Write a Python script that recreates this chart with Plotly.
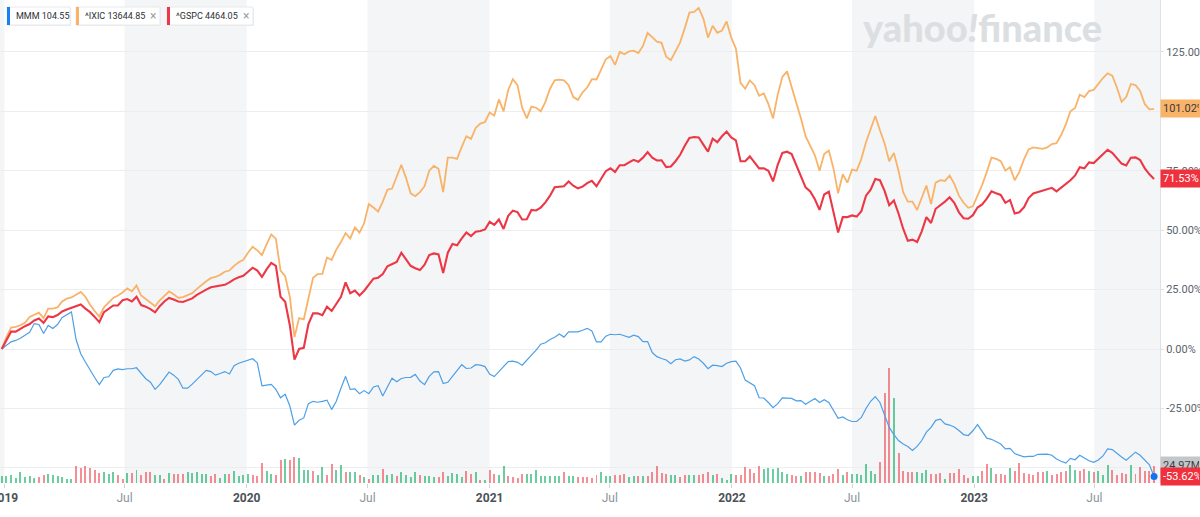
import plotly.graph_objects as go
from datetime import date, timedelta

# ---------------- data (weekly) ----------------
START_DATE = date(2018, 12, 28)

IXIC_PCT = [
    0, 5, 9, 9.3, 10, 11, 13.5, 14.5, 15.3, 13,
    17, 17, 17.5, 20, 21.2, 21.7, 23, 24, 22, 18.6,
    16, 13.6, 17.5, 19.5, 21.5, 22.5, 23.8, 25.5, 24.3, 26.7,
    22.5, 21, 19.5, 18, 20.5, 22.5, 24.2, 23, 21.5, 21.8,
    22.5, 23.5, 25.3, 27, 28.5, 29.8, 30.3, 31.2, 32.5, 33,
    35, 36.5, 37.5, 40.5, 43, 41.5, 39.5, 44, 48.2, 46.3,
    33, 30.6, 22, 5, 13, 12.5, 21, 30, 31.5, 31.6,
    38.5, 37.4, 41.8, 45, 48.8, 46.5, 51.2, 49, 53, 61,
    59.5, 57.8, 62, 67, 67.5, 72.5, 77.5, 72, 65.5, 64.3,
    66, 68.5, 75, 77, 75.8, 66, 80.5, 80.5, 80, 85,
    89.5, 88.4, 93, 94.8, 95.5, 99.5, 98.2, 105, 100, 109,
    113.5, 111, 101.5, 97, 102, 101.5, 100, 104, 109.5, 113,
    113.3, 113, 111, 106, 104.8, 108, 110, 113.5, 113.4, 117.5,
    121.9, 123.2, 119.5, 125, 124, 125.2, 125.5, 124.5, 127.5, 133,
    131, 129.3, 128.8, 123, 121.5, 125, 129, 135, 141.5, 141.8,
    143.5, 139, 131, 136, 133, 134, 137.8, 131, 126.4, 112,
    109.5, 113, 111, 106.5, 107.5, 103, 97, 107, 114.5, 116.8,
    110.5, 104, 97, 89.5, 85.5, 81.5, 75, 82, 83.5, 76,
    65.5, 73.5, 70, 75.5, 75, 80, 87, 92.5, 98, 92,
    86.5, 79, 82.5, 75, 66, 62, 62, 58.5, 64, 68.8,
    61, 70, 71, 70.7, 73, 69.5, 64.5, 61.5, 59.4, 60,
    64.5, 69, 74.5, 80.5, 80, 79, 75, 76.5, 71, 74.5,
    79.8, 84, 84.8, 84.4, 84.2, 84.8, 86.2, 86.6, 90, 94.5,
    100, 101.4, 107, 106, 108.5, 109, 111.5, 114, 116, 115,
    110, 104, 106, 111.5, 111, 108.6, 103, 100.8, 101.02,
]

GSPC_PCT = [
    0, 4, 7.3, 7.3, 8.5, 9.6, 10.5, 12, 12.8, 11,
    13.7, 13.4, 14.3, 15.8, 16.6, 17.4, 18, 18.7, 17, 15.5,
    13.5, 11.3, 15.5, 17, 18.3, 18.3, 20.5, 21, 20, 22,
    18.5, 17.8, 16.8, 15.4, 18, 20, 21.5, 20.8, 20, 19.8,
    20.5, 21.3, 22.8, 24, 25, 26, 26.3, 26.5, 27, 28,
    29.3, 30.2, 30.8, 32.5, 34.2, 33, 30.3, 33.5, 36.2, 35,
    22, 19.9, 10, -4.5, 0, 0.5, 10.5, 15, 15, 14.2,
    17.8, 16, 19, 22, 28, 23.5, 24.6, 22.5, 24.5, 27,
    29.6, 30, 31.5, 34.8, 35.8, 36.6, 40.5, 38, 35, 34,
    33.2, 35.5, 39.5, 40.2, 39.8, 32, 40.5, 44.2, 43.6, 46.5,
    49, 47.5, 49.3, 49.6, 50.3, 53.5, 52.2, 54.5, 50.5, 56,
    58.2, 57.6, 54.5, 54.6, 58.5, 58.3, 59.5, 61.7, 64.5, 68.1,
    68.3, 68.5, 70.5, 68.7, 67.6, 68.3, 69.8, 70.8, 68.5, 71.5,
    74.8, 76, 74.5, 77.3, 77.3, 78.5, 79.6, 78.8, 80.5, 82.8,
    80.5, 79.3, 79.4, 76.5, 76.8, 79, 81.7, 85.5, 88.8, 89.2,
    89, 86, 83, 88.5, 87, 89.5, 91.5, 89, 87.8, 79,
    79, 81, 78.5, 76, 76, 75, 70.5, 77.5, 82.5, 83,
    82, 77.5, 73, 68, 66.3, 63, 58.5, 65, 66.2, 58,
    49, 55.5, 55.5, 56.2, 55.7, 58, 64.5, 67, 71.5, 71,
    66.5, 60.5, 62.5, 57, 50.6, 45.5, 46, 45, 49.5, 55.5,
    53, 59, 60.4, 62, 63.8, 61.5, 57.5, 55, 54.8, 56.3,
    59.5, 60.8, 63.3, 66.3, 65.5, 64.8, 61.5, 62.7, 57, 57.5,
    59.6, 63.5, 65.4, 66, 66.4, 67.3, 67.8, 66.3, 67.8, 69.4,
    71, 73, 76.5, 76, 78.5, 78.2, 80, 82, 83.8, 82.5,
    80.2, 78, 77.2, 80.5, 80.6, 79.5, 76, 73.5, 71.53,
]

MMM_PCT = [
    0, 1.5, 3, 3.6, 4.5, 5.8, 7, 10.7, 10.3, 6.5,
    9.9, 8.6, 10.3, 13.3, 14.5, 15.6, 4, -2, -5.5, -9,
    -12, -15, -12, -11.7, -9, -8.4, -8.7, -8.3, -8.3, -7.9,
    -10, -12.5, -14, -17, -15, -12.5, -9.7, -11, -12.8, -16.5,
    -16.5, -14.8, -12.8, -11, -9, -9.5, -11, -10.3, -9.5, -10.5,
    -7, -6, -5.4, -4.7, -4.1, -5.8, -15.5, -15.2, -14.9, -17,
    -20.5, -19, -24, -32, -30, -29, -23, -22, -22.4, -22,
    -21.5, -25.5, -22, -16.5, -11.5, -17, -16.8, -18.8, -17.5, -18.8,
    -16, -15.4, -19.8, -16, -12.3, -13.8, -12.4, -12, -11.9, -10.7,
    -13.5, -15, -11.5, -9.6, -9.5, -14.5, -14, -11.5, -9, -6.6,
    -8.2, -8, -6.6, -6.8, -7.4, -10.5, -11.6, -9.5, -7.5, -5.3,
    -5.1, -5.6, -6.8, -4.8, -2.5, -0.5, 2, 2.6, 4, 4.9,
    6.3, 5, 7.2, 7.2, 7.2, 7.9, 8.7, 7.6, 3, 3,
    5.4, 6.2, 6, 6.2, 5.6, 4.9, 5.8, 5.2, 3.1, 3.1,
    -1.5, -3.2, -4, -4.6, -6.2, -4.5, -4.2, -5.1, -4.6, -3.2,
    -4.2, -6, -8.3, -6.8, -7, -7.4, -6, -5.3, -5.1, -8,
    -13.1, -14.3, -15.4, -20.5, -20.6, -22.5, -24.7, -23, -20.6, -20.7,
    -20.8, -21.8, -21.7, -23.2, -22, -20.8, -22.5, -21.3, -22.5, -25.8,
    -29.2, -28.6, -29.8, -30.5, -30.5, -28.8, -25, -22, -20, -22.5,
    -28, -33, -36, -38.5, -40, -41, -42.7, -41, -38.5, -35,
    -33, -30, -29.5, -31.5, -32, -32.8, -34.3, -36, -36.4, -34.4,
    -31.8, -34.8, -37.5, -38, -39, -40, -42, -41.8, -44, -44.8,
    -45.4, -45.2, -45.2, -44.3, -44.1, -44.2, -44.7, -46.3, -47.2, -48,
    -46, -46.6, -44.7, -46, -47, -47.7, -46.7, -45, -42, -42.3,
    -44, -45.4, -46.8, -45, -43.4, -44.7, -46.7, -48.7, -53.62,
]

MMM_VOL_M = [
    10.6, 9.6, 12, 7.2, 15.4, 8.6, 10.6, 7.2, 8.6, 12, 13, 11, 9.6, 8.6, 5.8, 6.2,
    24, 21.6, 25, 21.6, 18.2, 14.4, 15.8, 13, 15.8, 12, 5.8, 14.4, 14.4, 18.2, 12, 15.8,
    15.8, 12, 12, 6.2, 14.4, 13, 13.4, 13, 15.8, 14.4, 15.4, 13, 13, 9.6, 13.4, 7.2,
    13, 13, 17.8, 9.6, 11, 13, 12, 10.6, 28.8, 16.8, 13.4, 12, 33.6, 34.6, 33.6, 37,
    36, 18.2, 18.2, 17.8, 12, 23, 12, 27.4, 18.2, 25.4, 15.4, 15.8, 15.8, 12, 8.6, 5.8,
    12, 12, 20, 12, 13, 9.6, 15.8, 12, 8.6, 15.8, 12, 10.6, 9.6, 8.6, 8.6, 15.8,
    10.6, 14.4, 13, 8.2, 16.8, 13, 15.4, 4.8, 4.8, 18.2, 13.4, 12, 25, 9.6, 8.6, 7.2,
    13, 13, 13, 18.2, 9.6, 9.6, 9.6, 9.6, 10.6, 15.4, 9.6, 10.6, 8.6, 8.6, 8.6, 7.2,
    12, 15.8, 9.6, 9.6, 11, 12, 13, 8.6, 10.6, 10.6, 9.6, 10.6, 15.8, 25, 14.4, 13,
    12, 12, 8.6, 12, 11, 12, 11, 13, 15.8, 12, 13.4, 7.2, 4.8, 13, 11, 11,
    23, 20, 14.4, 24, 20, 21.6, 20, 21.6, 15.8, 13, 12, 9.6, 10.6, 15.8, 15.8, 15.4,
    14.4, 10.6, 9.6, 13, 20.6, 12, 15.4, 13, 13, 12, 27.4, 17.8, 13, 30.2, 130, 165,
    123, 43.2, 17.8, 15.8, 15.8, 15.8, 14.4, 19.2, 13, 13, 14.4, 5.8, 14.4, 14.4, 20.6, 12,
    7.2, 9.6, 9.6, 16.8, 27.8, 21.6, 13, 13, 12, 21.6, 16.8, 28.8, 14.4, 13, 11, 15.4,
    15.8, 17.8, 12, 13, 15.8, 17.8, 25.4, 19.2, 17.8, 20.6, 17.8, 15.8, 17.8, 12, 26.4, 18.2,
    11, 14.4, 13, 26.4, 13, 23, 17.8, 16.8, 24.97,
]

VOL_UP = [
    1, 1, 1, 1, 1, 1, 1, 1, 0, 0, 1, 1, 1, 1, 1, 1,
    0, 0, 0, 0, 0, 0, 1, 1, 1, 0, 0, 1, 0, 1, 0, 0,
    0, 1, 1, 0, 1, 0, 0, 0, 1, 1, 1, 1, 1, 0, 0, 1,
    1, 0, 1, 1, 1, 1, 0, 0, 0, 1, 1, 0, 0, 1, 0, 0,
    1, 1, 1, 0, 1, 1, 0, 0, 1, 1, 0, 1, 1, 0, 1, 0,
    1, 1, 0, 1, 1, 0, 1, 1, 1, 1, 0, 1, 1, 1, 0, 0,
    1, 1, 1, 1, 0, 0, 1, 0, 1, 0, 0, 1, 1, 0, 0, 0,
    0, 1, 1, 1, 1, 1, 1, 1, 1, 0, 1, 1, 0, 0, 0, 0,
    0, 1, 1, 1, 0, 0, 0, 1, 1, 0, 1, 0, 0, 0, 0, 0,
    1, 1, 0, 0, 1, 1, 0, 0, 0, 1, 0, 1, 1, 1, 0, 0,
    0, 0, 0, 0, 1, 1, 1, 1, 1, 1, 0, 0, 1, 0, 0, 0,
    0, 1, 0, 0, 0, 1, 0, 1, 1, 1, 1, 1, 1, 0, 0, 0,
    1, 0, 0, 0, 0, 1, 1, 1, 0, 0, 0, 1, 0, 0, 0, 0,
    0, 1, 1, 0, 0, 1, 0, 0, 0, 1, 0, 0, 0, 0, 0, 0,
    0, 1, 0, 0, 0, 0, 1, 1, 0, 0, 1, 0, 1, 1, 1, 0,
    0, 0, 0, 1, 0, 0, 0, 0, 0,
]

LEGEND = [("MMM", "104.55"), ("^IXIC", "13644.85"), ("^GSPC", "4464.05")]
Y_TICKS = [-50, -25, 0, 25, 50, 75, 100, 125]
X_TICKS = ["2019-01-01", "2019-07-01", "2020-01-01", "2020-07-01", "2021-01-01",
           "2021-07-01", "2022-01-01", "2022-07-01", "2023-01-01", "2023-07-01"]
SHADED = [("2018-12-01", "2019-01-01"), ("2019-07-01", "2020-01-01"),
          ("2020-07-01", "2021-01-01"), ("2021-07-01", "2022-01-01"),
          ("2022-07-01", "2023-01-01"), ("2023-07-01", "2023-12-31")]

# ---------------- styling ----------------
C_IXIC = "#f8b369"
C_GSPC = "#ec3846"
C_MMM = "#4d9fe6"
C_MMM_CHIP = "#1a7ff0"
FONT = "Roboto"

W, H = 1200, 517
M_L, M_R, M_T, M_B = 0, 40, 0, 34
PW, PH = W - M_L - M_R, H - M_T - M_B


def px(x):
    return x / PW


def py(y):
    return 1 - y / PH


dates = [START_DATE + timedelta(days=7 * i) for i in range(len(IXIC_PCT))]

fig = go.Figure()

vol_colors = ["rgba(0,168,92,0.58)" if u else "rgba(238,60,72,0.58)" for u in VOL_UP]
fig.add_trace(go.Bar(
    x=dates, y=MMM_VOL_M, marker=dict(color=vol_colors, line=dict(width=0)),
    width=3 * 86400000, yaxis="y", showlegend=False, hoverinfo="skip"))

fig.add_trace(go.Scatter(x=dates, y=MMM_PCT, yaxis="y2", mode="lines",
                         line=dict(color=C_MMM, width=1.2), showlegend=False))
fig.add_trace(go.Scatter(x=dates, y=IXIC_PCT, yaxis="y2", mode="lines",
                         line=dict(color=C_IXIC, width=1.8), showlegend=False))
fig.add_trace(go.Scatter(x=dates, y=GSPC_PCT, yaxis="y2", mode="lines",
                         line=dict(color=C_GSPC, width=2.1), showlegend=False))
fig.add_trace(go.Scatter(x=[dates[-1]], y=[MMM_PCT[-1]], yaxis="y2", mode="markers",
                         marker=dict(color="#1273ee", size=7), showlegend=False))

shapes = []
for a, b in SHADED:
    shapes.append(dict(type="rect", xref="x", yref="paper", x0=a, x1=b, y0=0, y1=1,
                       fillcolor="#f4f5f6", line=dict(width=0), layer="below"))

# legend chips
chips = [(7, 70, C_MMM_CHIP), (76, 160, C_IXIC), (167, 253, C_GSPC)]
annotations = []
for (x0, x1, col), (name, val), i in zip(chips, LEGEND, range(3)):
    shapes.append(dict(type="rect", xref="paper", yref="paper", x0=px(x0 + 1), x1=px(x1 + 1),
                       y0=py(26), y1=py(8), fillcolor="#eceef0",
                       line=dict(width=0), layer="above"))
    shapes.append(dict(type="rect", xref="paper", yref="paper", x0=px(x0), x1=px(x1),
                       y0=py(25), y1=py(7), fillcolor="white",
                       line=dict(color="#e6e8ea", width=1), layer="above"))
    shapes.append(dict(type="rect", xref="paper", yref="paper", x0=px(x0), x1=px(x0 + 3),
                       y0=py(25), y1=py(7), fillcolor=col, line=dict(width=0), layer="above"))
    annotations.append(dict(xref="paper", yref="paper", x=px(x0 + 7), y=py(16),
                            xanchor="left", yanchor="middle", showarrow=False,
                            text=f"{name} {val}", font=dict(family=FONT, size=9, color="#2c3136")))
    if i > 0:
        annotations.append(dict(xref="paper", yref="paper", x=px(x1 - 7), y=py(16),
                                xanchor="center", yanchor="middle", showarrow=False,
                                text="×", font=dict(family=FONT, size=12, color="#9aa1a7")))

# watermark
annotations.append(dict(xref="paper", yref="paper", x=px(983), y=py(27), xanchor="center",
                        yanchor="middle", showarrow=False, text="yahoo<i>!</i>finance",
                        font=dict(family="Lato", size=38, color="#dcdfe2", weight=900)))

# last value labels
def last_label(y, yref, text, bg, fg):
    return dict(xref="paper", yref=yref, x=1.0, y=y, xanchor="left", yanchor="middle",
                showarrow=False, text=text, bgcolor=bg, borderpad=2, width=36, align="left",
                font=dict(family=FONT, size=11, color=fg))

annotations.append(last_label(IXIC_PCT[-1], "y2", f"{IXIC_PCT[-1]:.2f}%", "#f8b369", "#3a3a3a"))
annotations.append(last_label(GSPC_PCT[-1], "y2", f"{GSPC_PCT[-1]:.2f}%", "#f0303c", "white"))
annotations.append(last_label(MMM_VOL_M[-1], "y", f"{MMM_VOL_M[-1]:.2f}M", "#c3c7cb", "#3a3f44"))
annotations.append(last_label(MMM_PCT[-1], "y2", f"{MMM_PCT[-1]:.2f}%", "#f0303c", "white"))

tick_text = []
for d in X_TICKS:
    if d.endswith("-01-01"):
        tick_text.append(f"<b>{d[:4]}</b>")
    else:
        tick_text.append('<span style="color:#8c949a">Jul</span>')

PX_PER_PCT = 2.377
Y_ZERO_PX = 349
y2_top = Y_ZERO_PX / PX_PER_PCT
y2_bot = -(PH - Y_ZERO_PX) / PX_PER_PCT
M_PER_PX = 1.44

fig.update_layout(
    width=W, height=H,
    margin=dict(l=M_L, r=M_R, t=M_T, b=M_B, pad=0),
    paper_bgcolor="white", plot_bgcolor="white",
    showlegend=False, bargap=0,
    font=dict(family=FONT, color="#4a5157"),
    xaxis=dict(type="date", range=["2018-12-25 09:00", "2023-10-07 22:00"],
               tickvals=X_TICKS, ticktext=tick_text, showgrid=False, zeroline=False,
               showline=False, ticks="outside", ticklen=4, tickcolor="#cfd3d6",
               ticklabeloverflow="allow",
               tickfont=dict(family=FONT, size=12, color="#4a5157"), automargin=False),
    yaxis=dict(range=[0, PH * M_PER_PX], visible=False, fixedrange=True),
    yaxis2=dict(overlaying="y", side="right", range=[y2_bot, y2_top],
                tickvals=Y_TICKS, ticktext=[f"{v:.2f}%" for v in Y_TICKS],
                showgrid=True, gridcolor="#ebedef", gridwidth=1, zeroline=False,
                showline=True, linecolor="#dfe2e5", linewidth=1,
                ticks="outside", ticklen=3, tickcolor="#dfe2e5",
                tickfont=dict(family=FONT, size=11, color="#5b636a"), automargin=False),
    shapes=shapes,
    annotations=annotations,
)

fig.write_html("out.html")
